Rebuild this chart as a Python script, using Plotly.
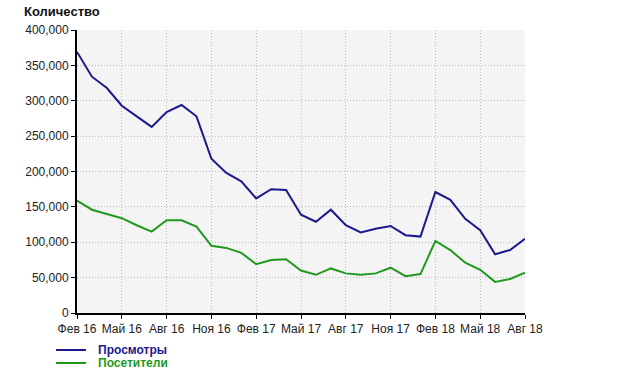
import plotly.graph_objects as go

months = ["Фев 16","Мар 16","Апр 16","Май 16","Июн 16","Июл 16","Авг 16","Сен 16","Окт 16","Ноя 16",
          "Дек 16","Янв 17","Фев 17","Мар 17","Апр 17","Май 17","Июн 17","Июл 17","Авг 17","Сен 17",
          "Окт 17","Ноя 17","Дек 17","Янв 18","Фев 18","Мар 18","Апр 18","Май 18","Июн 18","Июл 18","Авг 18"]
views = [369000, 334000, 318000, 293000, 278000, 263000, 284000, 294000, 278000, 218000,
         198000, 186000, 162000, 175000, 174000, 139000, 129000, 146000, 124000, 114000,
         119000, 123000, 110000, 108000, 171000, 160000, 133000, 117000, 83000, 89000, 105000]
visitors = [159000, 146000, 140000, 134000, 124000, 115000, 131000, 131000, 122000, 95000,
            92000, 85000, 69000, 75000, 76000, 60000, 54000, 63000, 56000, 54000,
            56000, 64000, 52000, 55000, 102000, 89000, 71000, 61000, 44000, 48000, 57000]
tick_labels = months[::3]
y_ticks = [0, 50000, 100000, 150000, 200000, 250000, 300000, 350000, 400000]
series_names = ["Просмотры", "Посетители"]
colors = ["#1a1a8c", "#1f9a1f"]

fig = go.Figure()
for name, vals, c in zip(series_names, [views, visitors], colors):
    fig.add_trace(go.Scatter(x=months, y=vals, mode="lines", name=name,
                             line=dict(color=c, width=2), showlegend=False))

fig.update_layout(
    width=620, height=372,
    margin=dict(l=77, r=95, t=30, b=59),
    paper_bgcolor="white", plot_bgcolor="#f4f4f4",
    font=dict(family="Liberation Sans, Arial", size=12, color="#222"),
)
grid_style = dict(showgrid=True, gridcolor="#bdbdbd", griddash="1px,2px", gridwidth=1,
                  showline=True, linecolor="black", linewidth=2,
                  ticks="outside", ticklen=4, tickcolor="black", tickwidth=1,
                  tickfont=dict(size=12, color="#222"), zeroline=False)
fig.update_xaxes(type="category", range=[0, len(months) - 1],
                 tickvals=tick_labels, ticktext=tick_labels, **grid_style)
fig.update_yaxes(range=[0, 400000], tickvals=y_ticks, tickformat=",d", **grid_style)

PL, PT, PW, PH = 77, 30, 448, 283  # plot area in page pixels
def px(x):
    return (x - PL) / PW
def py(y):
    return (PT + PH - y) / PH

annotations = [dict(text="<b>Количество</b>", xref="paper", yref="paper",
                    x=px(22), y=py(12), xanchor="left", yanchor="middle",
                    showarrow=False, font=dict(size=13, color="#111"))]
shapes = []
legend_y = [350, 363]
for name, c, yy in zip(series_names, colors, legend_y):
    shapes.append(dict(type="line", xref="paper", yref="paper",
                       x0=px(56), x1=px(86), y0=py(yy), y1=py(yy),
                       line=dict(color=c, width=2)))
    annotations.append(dict(text="<b>" + name + "</b>", xref="paper", yref="paper",
                            x=px(96), y=py(yy), xanchor="left", yanchor="middle",
                            showarrow=False, font=dict(size=12, color=c)))
fig.update_layout(annotations=annotations, shapes=shapes)

fig.write_html("out.html", config={"displayModeBar": False},
               post_script="document.body.style.margin='0';document.body.style.overflow='hidden';")
